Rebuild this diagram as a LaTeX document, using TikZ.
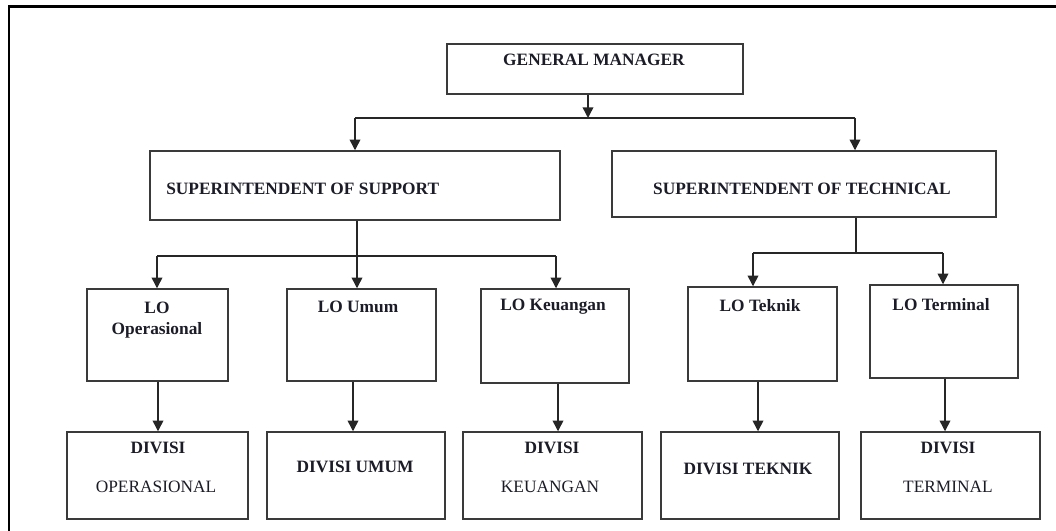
\documentclass[tikz,border=0pt]{standalone}
\usepackage{fontspec}
\setmainfont{Liberation Serif}
\usetikzlibrary{fit,arrows.meta}
\definecolor{ink}{HTML}{1C1C28}
\definecolor{edge}{HTML}{3A3A3A}
\tikzset{
  box/.style={draw=edge, line width=1.1pt, inner sep=0pt, fill=white},
  lbl/.style={text=ink, font=\fontsize{13}{15.5}\selectfont\bfseries, inner sep=0pt, align=center},
  lblr/.style={text=ink, font=\fontsize{13}{15.5}\selectfont, inner sep=0pt},
  link/.style={draw=black!85, line width=1.1pt},
  arr/.style={link, -{Triangle[length=8pt,width=8pt]}},
}
\begin{document}
\begin{tikzpicture}[x=0.75pt, y=-0.75pt]
\useasboundingbox (0,0) rectangle (1056,531);

% page frame (left and top edges)
\draw[line width=1.6pt, black] (9,531) -- (9,6.5) -- (1056,6.5);

% ---------- boxes ----------
\node[box, fit={(447,44) (743,94)}] (gm) {};
\node[box, fit={(150,151) (560,220)}] (sos) {};
\node[box, fit={(612,151) (996,217)}] (sot) {};

\node[box, fit={(87,289) (228,381)}] (lo1) {};
\node[box, fit={(287,289) (436,381)}] (lo2) {};
\node[box, fit={(481,289) (629,383)}] (lo3) {};
\node[box, fit={(688,287) (837,381)}] (lo4) {};
\node[box, fit={(870,285) (1018,378)}] (lo5) {};

\node[box, fit={(67,432) (248,519)}] (dv1) {};
\node[box, fit={(267,432) (445,519)}] (dv2) {};
\node[box, fit={(463,432) (642,519)}] (dv3) {};
\node[box, fit={(661,432) (839,519)}] (dv4) {};
\node[box, fit={(861,432) (1040,519)}] (dv5) {};

% ---------- labels ----------
\node[lbl] (gmt) at (594,60) {GENERAL MANAGER};
\node[lbl, anchor=west] (sost) at (166,189) {SUPERINTENDENT OF SUPPORT};
\node[lbl] (sott) at (802,189) {SUPERINTENDENT OF TECHNICAL};

\node[lbl] (lo1t) at (157,320) {LO\\Operasional};
\node[lbl] (lo2t) at (358,307) {LO Umum};
\node[lbl] (lo3t) at (553,307) {LO Keuangan};
\node[lbl] (lo4t) at (760,306) {LO Teknik};
\node[lbl] (lo5t) at (941,305) {LO Terminal};

\node[lbl] (dv1a) at (158,448) {DIVISI};
\node[lblr] (dv1b) at (156,487) {OPERASIONAL};
\node[lbl] (dv2t) at (355,467) {DIVISI UMUM};
\node[lbl] (dv3a) at (552,448) {DIVISI};
\node[lblr] (dv3b) at (550,487) {KEUANGAN};
\node[lbl] (dv4t) at (748,469) {DIVISI TEKNIK};
\node[lbl] (dv5a) at (948,448) {DIVISI};
\node[lblr] (dv5b) at (948,487) {TERMINAL};

% ---------- connectors ----------
% general manager to both superintendents
\coordinate (b0) at (588,118);
\coordinate (b0l) at (355,118);
\coordinate (b0r) at (855,118);
\draw[arr] (gm.south -| b0) -- (b0);
\draw[link] (b0l) -- (b0r);
\draw[arr] (b0l) -- (sos.north -| b0l);
\draw[arr] (b0r) -- (sot.north -| b0r);

% support branch
\coordinate (b1) at (357,256);
\coordinate (b1l) at (157,256);
\coordinate (b1r) at (556,256);
\draw[link] (sos.south -| b1) -- (b1);
\draw[link] (b1l) -- (b1r);
\draw[arr] (b1l) -- (lo1.north -| b1l);
\draw[arr] (b1) -- (lo2.north -| b1);
\draw[arr] (b1r) -- (lo3.north -| b1r);

% technical branch
\coordinate (b2) at (856,253);
\coordinate (b2l) at (753,253);
\coordinate (b2r) at (943,253);
\draw[link] (sot.south -| b2) -- (b2);
\draw[link] (b2l) -- (b2r);
\draw[arr] (b2l) -- (lo4.north -| b2l);
\draw[arr] (b2r) -- (lo5.north -| b2r);

% LO offices to their divisions
\coordinate (c1) at (158,0);
\coordinate (c2) at (353,0);
\coordinate (c3) at (558,0);
\coordinate (c4) at (758,0);
\coordinate (c5) at (945,0);
\draw[arr] (lo1.south -| c1) -- (dv1.north -| c1);
\draw[arr] (lo2.south -| c2) -- (dv2.north -| c2);
\draw[arr] (lo3.south -| c3) -- (dv3.north -| c3);
\draw[arr] (lo4.south -| c4) -- (dv4.north -| c4);
\draw[arr] (lo5.south -| c5) -- (dv5.north -| c5);
\end{tikzpicture}
\end{document}
